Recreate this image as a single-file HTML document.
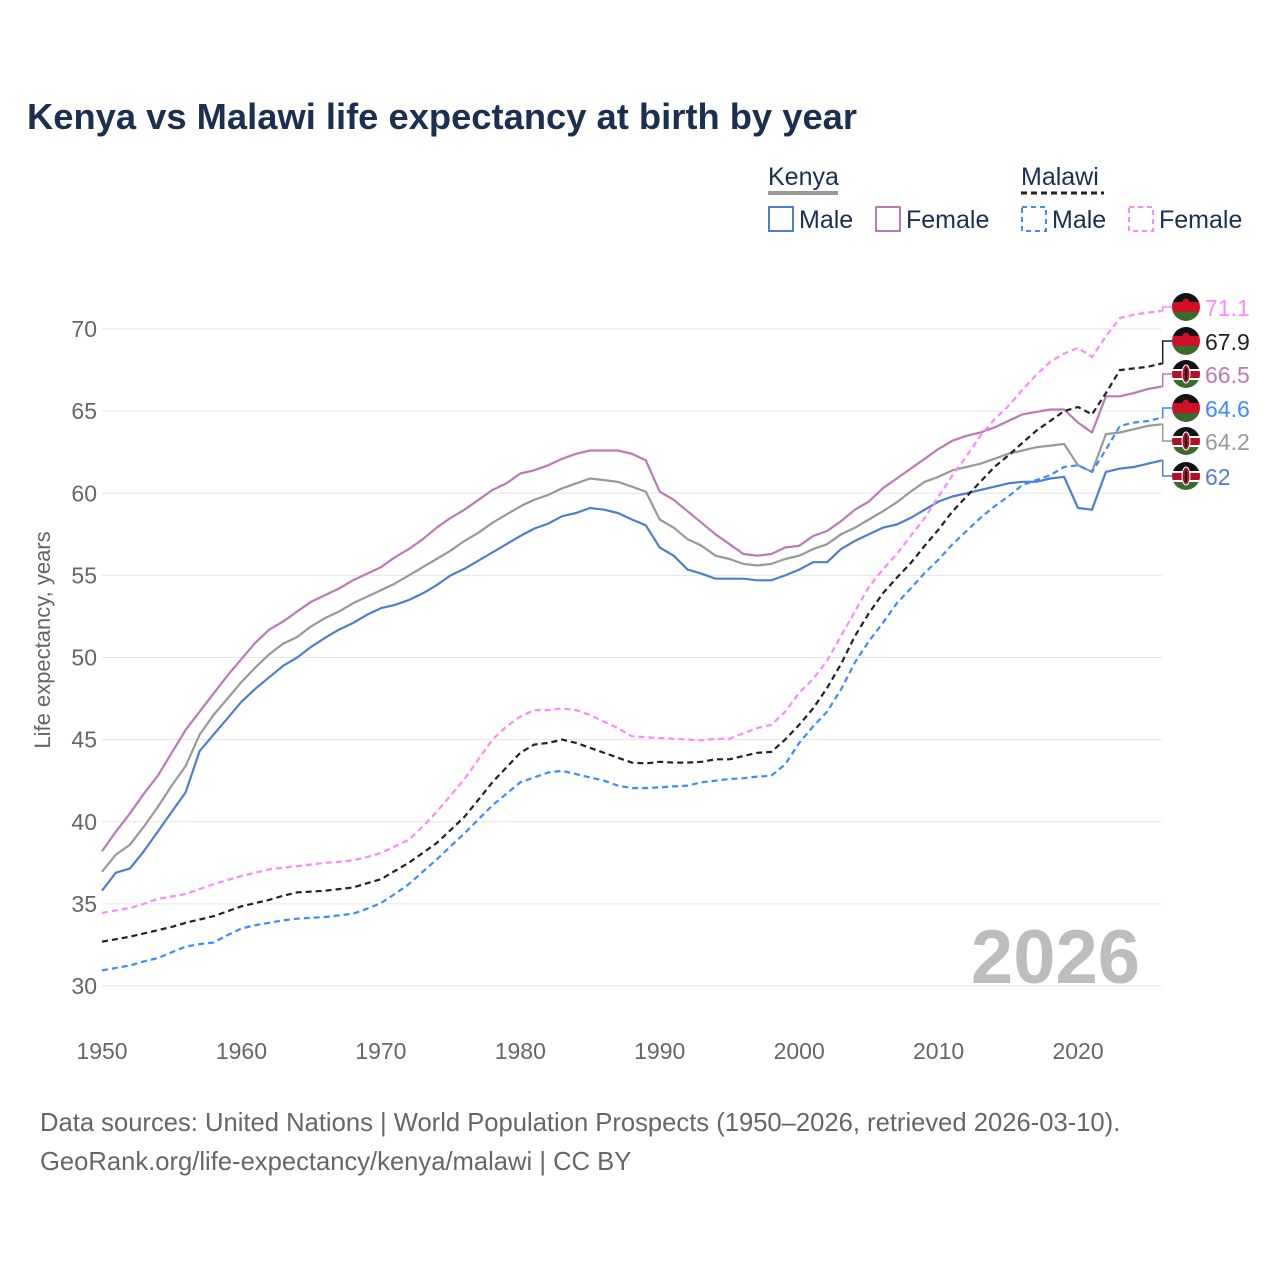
<!DOCTYPE html>
<html><head><meta charset="utf-8">
<style>
body{margin:0;background:#fff;}
svg{display:block;font-family:"Liberation Sans",sans-serif;}
</style></head>
<body>
<svg id="chart" width="1280" height="1280" viewBox="0 0 1280 1280">
<text x="27" y="129" font-size="36" font-weight="bold" fill="#1b2f50" textLength="830" lengthAdjust="spacingAndGlyphs">Kenya vs Malawi life expectancy at birth by year</text>
<g>
<text x="768" y="185" font-size="25" fill="#1b2f50">Kenya</text>
<line x1="768" y1="193" x2="838" y2="193" stroke="#999" stroke-width="4"/>
<text x="1021" y="185" font-size="25" fill="#1b2f50">Malawi</text>
<line x1="1021" y1="193" x2="1104" y2="193" stroke="#222" stroke-width="3" stroke-dasharray="6,4"/>
<rect x="769" y="207" width="24" height="24" fill="none" stroke="#4f7fcc" stroke-width="2"/>
<text x="799" y="228" font-size="25" fill="#1b2f50">Male</text>
<rect x="876" y="207" width="24" height="24" fill="none" stroke="#b87bb8" stroke-width="2"/>
<text x="906" y="228" font-size="25" fill="#1b2f50">Female</text>
<rect x="1022" y="207" width="24" height="24" fill="none" stroke="#3d8bff" stroke-width="2" stroke-dasharray="5,4"/>
<text x="1052" y="228" font-size="25" fill="#1b2f50">Male</text>
<rect x="1129" y="207" width="24" height="24" fill="none" stroke="#ff88ff" stroke-width="2" stroke-dasharray="5,4"/>
<text x="1159" y="228" font-size="25" fill="#1b2f50">Female</text>
</g>
<text transform="translate(50,640) rotate(-90)" text-anchor="middle" font-size="22" fill="#666">Life expectancy, years</text>
<g id="grid"></g>
<text x="1140" y="983" text-anchor="end" font-size="76" font-weight="bold" fill="#bdbdbd">2026</text>
<g id="series"></g>
<g id="labels"></g>
<text x="40" y="1131" font-size="25.6" fill="#666">Data sources: United Nations | World Population Prospects (1950–2026, retrieved 2026-03-10).</text>
<text x="40" y="1170" font-size="25.6" fill="#666">GeoRank.org/life-expectancy/kenya/malawi | CC BY</text>
</svg>
<script>
const years=[];for(let y=1950;y<=2026;y++)years.push(y);
const yTicks=[30,35,40,45,50,55,60,65,70];
const xTicks=[1950,1960,1970,1980,1990,2000,2010,2020];
const kenyaFemale=[38.2,39.4,40.5,41.7,42.8,44.2,45.6,46.7,47.8,48.9,49.9,50.9,51.7,52.2,52.8,53.4,53.8,54.2,54.7,55.1,55.5,56.1,56.6,57.2,57.9,58.5,59.0,59.6,60.2,60.6,61.2,61.4,61.7,62.1,62.4,62.6,62.6,62.6,62.4,62.0,60.1,59.6,58.9,58.2,57.5,56.9,56.3,56.2,56.3,56.7,56.8,57.4,57.7,58.3,59.0,59.5,60.3,60.9,61.5,62.1,62.7,63.2,63.5,63.7,64.0,64.4,64.8,64.95,65.1,65.1,64.3,63.7,65.9,65.9,66.1,66.35,66.5];
const kenyaTotal=[36.95,38.0,38.6,39.7,40.9,42.2,43.4,45.3,46.5,47.5,48.5,49.4,50.2,50.85,51.25,51.9,52.4,52.8,53.3,53.7,54.1,54.5,55.0,55.5,56.0,56.5,57.1,57.6,58.2,58.7,59.2,59.6,59.9,60.3,60.6,60.9,60.8,60.7,60.4,60.1,58.4,57.9,57.2,56.8,56.2,56.0,55.7,55.6,55.7,56.0,56.2,56.6,56.9,57.5,57.9,58.4,58.9,59.45,60.1,60.7,61.0,61.4,61.6,61.8,62.1,62.4,62.6,62.8,62.9,63.0,61.7,61.3,63.6,63.7,63.9,64.1,64.2];
const kenyaMale=[35.8,36.9,37.15,38.2,39.4,40.6,41.8,44.3,45.3,46.3,47.3,48.1,48.8,49.5,50.0,50.65,51.2,51.7,52.1,52.6,53.0,53.2,53.5,53.9,54.4,55.0,55.4,55.9,56.4,56.9,57.4,57.85,58.15,58.6,58.8,59.1,59.0,58.8,58.4,58.05,56.7,56.2,55.35,55.1,54.8,54.8,54.8,54.7,54.7,55.0,55.35,55.8,55.8,56.6,57.1,57.5,57.9,58.1,58.5,59.0,59.5,59.8,60.0,60.2,60.4,60.6,60.7,60.7,60.9,61.0,59.1,59.0,61.3,61.5,61.6,61.8,62.0];
const malawiFemale=[34.45,34.6,34.75,35.0,35.3,35.45,35.6,35.9,36.2,36.45,36.7,36.9,37.1,37.2,37.3,37.4,37.5,37.55,37.65,37.85,38.1,38.5,38.9,39.7,40.6,41.6,42.6,43.8,45.0,45.8,46.4,46.8,46.8,46.9,46.8,46.5,46.1,45.7,45.2,45.15,45.1,45.05,45.0,44.95,45.05,45.05,45.4,45.7,45.9,46.7,47.85,48.7,49.8,51.3,52.8,54.3,55.35,56.3,57.4,58.5,59.8,61.1,62.25,63.5,64.5,65.3,66.3,67.2,68.0,68.5,68.85,68.3,69.55,70.67,70.87,71.0,71.1];
const malawiTotal=[32.7,32.85,33.0,33.2,33.4,33.6,33.85,34.05,34.25,34.55,34.85,35.05,35.25,35.5,35.7,35.75,35.8,35.9,36.0,36.25,36.5,37.0,37.5,38.1,38.7,39.5,40.3,41.35,42.4,43.3,44.2,44.7,44.8,45.0,44.8,44.5,44.2,43.9,43.6,43.55,43.65,43.6,43.6,43.65,43.8,43.8,44.0,44.2,44.25,45.0,45.9,46.9,48.15,49.6,51.3,52.7,53.9,54.85,55.75,56.8,57.8,58.9,59.8,60.7,61.6,62.3,63.06,63.8,64.4,65.0,65.25,64.8,66.1,67.5,67.6,67.7,67.9];
const malawiMale=[30.95,31.1,31.25,31.5,31.7,32.05,32.4,32.55,32.65,33.1,33.5,33.7,33.85,34.0,34.1,34.15,34.2,34.3,34.4,34.7,35.05,35.6,36.2,36.95,37.7,38.5,39.3,40.15,41.0,41.7,42.4,42.7,43.0,43.1,42.9,42.7,42.5,42.2,42.05,42.05,42.1,42.15,42.2,42.4,42.5,42.6,42.65,42.75,42.8,43.5,44.8,45.8,46.7,48.05,49.7,51.0,52.1,53.3,54.2,55.15,55.96,56.9,57.7,58.5,59.2,59.8,60.5,60.8,61.1,61.6,61.7,61.3,62.65,64.1,64.3,64.4,64.6];
const endLabels=["71.1","67.9","66.5","64.6","64.2","62"];

const NS="http://www.w3.org/2000/svg";
const X0=102,X1=1161.7,Y70=329,Y30=986;
const xs=y=>X0+(y-1950)*(X1-X0)/76;
const ys=v=>Y30-(v-30)*(Y30-Y70)/40;
function mk(tag,attrs,parent){const e=document.createElementNS(NS,tag);for(const k in attrs)e.setAttribute(k,attrs[k]);parent.appendChild(e);return e;}
const grid=document.getElementById('grid');
yTicks.forEach(t=>{
  const l=mk('line',{x1:X0,x2:X1,y1:ys(t),y2:ys(t),stroke:'#e6e6e6','stroke-width':1},grid);
  
  
  const tx=mk('text',{x:97,y:ys(t)+8,'text-anchor':'end','font-size':23,fill:'#666'},grid);
  tx.textContent=t;
  
  
});
xTicks.forEach(t=>{
  const tx=mk('text',{x:xs(t),y:1059,'text-anchor':'middle','font-size':23,fill:'#666'},grid);
  tx.textContent=t;
  
  
});
const sg=document.getElementById('series');
const defs=[
 {d:kenyaTotal,c:'#999999',dash:null},
 {d:kenyaFemale,c:'#b87bb8',dash:null},
 {d:kenyaMale,c:'#4f7fcc',dash:null},
 {d:malawiFemale,c:'#ff88ff',dash:'6,4'},
 {d:malawiMale,c:'#3d8bff',dash:'6,4'},
 {d:malawiTotal,c:'#222222',dash:'6,4'}];
const names=["kenya-total-line","kenya-female-line","kenya-male-line","malawi-female-line","malawi-male-line","malawi-total-line"];
defs.forEach((s,i)=>{
  const p=s.d.map((v,j)=>(j?'L':'M')+xs(years[j]).toFixed(1)+' '+ys(v).toFixed(1)).join(' ');
  const a={d:p,fill:'none',stroke:s.c,'stroke-width':2.2,'stroke-linejoin':'round'};
  if(s.dash)a['stroke-dasharray']=s.dash;
  const e=mk('path',a,sg);
  
  
});
const lg=document.getElementById('labels');
const ends=[
 {v:malawiFemale[76],c:'#ff88ff',f:'mw'},
 {v:malawiTotal[76],c:'#222',f:'mw'},
 {v:kenyaFemale[76],c:'#b87bb8',f:'ke'},
 {v:malawiMale[76],c:'#3d8bff',f:'mw'},
 {v:kenyaTotal[76],c:'#999',f:'ke'},
 {v:kenyaMale[76],c:'#4f7fcc',f:'ke'}];
const labY=[307,341,374,408,441,476];
const txtCol=['#ff88ff','#222','#b87bb8','#3d8bff','#999','#4f7fcc'];
ends.forEach((e,i)=>{
  const ly=labY[i], vy=ys(e.v);
  const c=mk('path',{d:`M${X1} ${vy} L${X1+1} ${vy} L${X1+1} ${ly} L1172 ${ly}`,fill:'none',stroke:e.c,'stroke-width':1.5},lg);
  
  
  const g=mk('g',{},lg);
  
  
  const cx=1186,r=14,id='cl'+i;
  const cp=mk('clipPath',{id:id},g);mk('circle',{cx:cx,cy:ly,r:r},cp);
  const fg=mk('g',{'clip-path':`url(#${id})`},g);
  if(e.f==='mw'){
    mk('rect',{x:cx-r,y:ly-r,width:2*r,height:10,fill:'#111'},fg);
    mk('rect',{x:cx-r,y:ly-r+9,width:2*r,height:10,fill:'#ce1126'},fg);
    mk('rect',{x:cx-r,y:ly-r+19,width:2*r,height:10,fill:'#3b6b2c'},fg);
    mk('circle',{cx:cx,cy:ly-r+9,r:3.5,fill:'#ce1126'},fg);
  }else{
    mk('rect',{x:cx-r,y:ly-r,width:2*r,height:9,fill:'#111'},fg);
    mk('rect',{x:cx-r,y:ly-r+9,width:2*r,height:2,fill:'#fff'},fg);
    mk('rect',{x:cx-r,y:ly-r+11,width:2*r,height:7,fill:'#b0102a'},fg);
    mk('rect',{x:cx-r,y:ly-r+18,width:2*r,height:2,fill:'#fff'},fg);
    mk('rect',{x:cx-r,y:ly-r+20,width:2*r,height:9,fill:'#3b6b2c'},fg);
    mk('ellipse',{cx:cx,cy:ly,rx:4,ry:9,fill:'#b0102a',stroke:'#fff','stroke-width':1},fg);
    mk('rect',{x:cx-1,y:ly-6,width:2,height:12,fill:'#111'},fg);
  }
  const t=mk('text',{x:1205,y:ly+9,'font-size':23,fill:txtCol[i]},lg);
  t.textContent=endLabels[i];
  
  
});
</script>
</body></html>
